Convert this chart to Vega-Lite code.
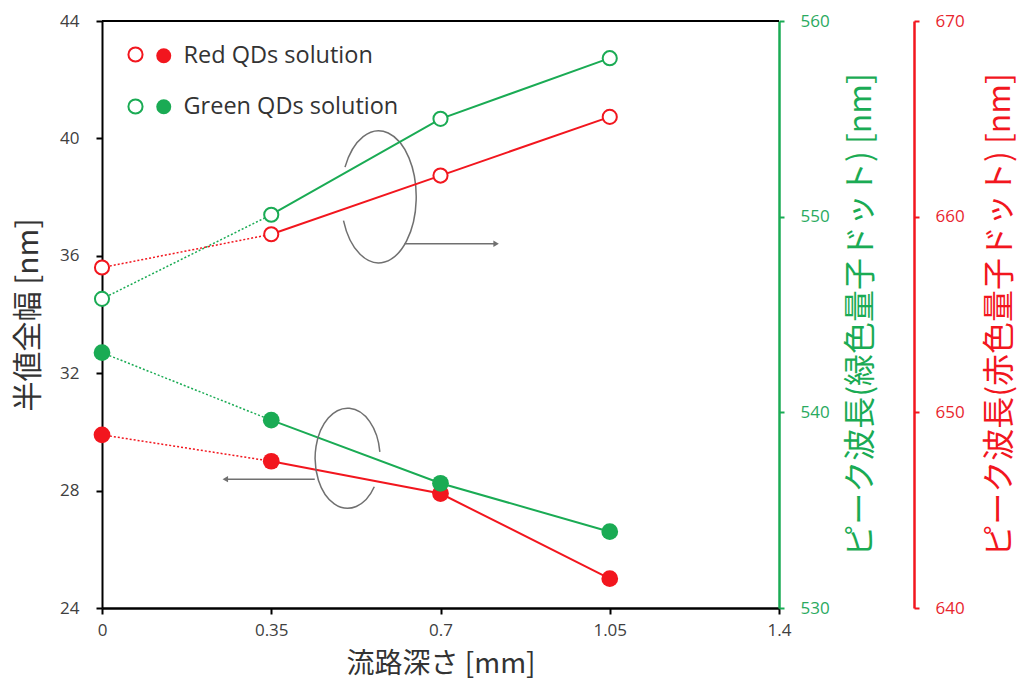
{
  "$schema": "https://vega.github.io/schema/vega-lite/v6.json",
  "width": 677,
  "height": 587,
  "autosize": "none",
  "padding": {"left": 102, "top": 21, "right": 240, "bottom": 78},
  "background": "white",
  "config": {
    "view": {"stroke": null},
    "font": "Open Sans",
    "axis": {
      "labelFont": "Open Sans",
      "labelFontSize": 17,
      "labelColor": "#404040",
      "labelFlush": false,
      "titleFont": "Noto Sans CJK JP",
      "titleFontWeight": "normal",
      "titleFontSize": 30,
      "titleColor": "#333333",
      "grid": false,
      "domainWidth": 2,
      "domainColor": "black",
      "tickWidth": 2,
      "tickColor": "black",
      "tickSize": 6
    }
  },
  "datasets": {
    "fwhm": [
      {"depth": 0, "fwhm": 29.9, "series": "Red QDs solution"},
      {"depth": 0.35, "fwhm": 29.0, "series": "Red QDs solution"},
      {"depth": 0.7, "fwhm": 27.9, "series": "Red QDs solution"},
      {"depth": 1.05, "fwhm": 25.0, "series": "Red QDs solution"},
      {"depth": 0, "fwhm": 32.7, "series": "Green QDs solution"},
      {"depth": 0.35, "fwhm": 30.4, "series": "Green QDs solution"},
      {"depth": 0.7, "fwhm": 28.25, "series": "Green QDs solution"},
      {"depth": 1.05, "fwhm": 26.6, "series": "Green QDs solution"}
    ],
    "peakGreen": [
      {"depth": 0, "peak": 545.8, "series": "Green QDs solution"},
      {"depth": 0.35, "peak": 550.1, "series": "Green QDs solution"},
      {"depth": 0.7, "peak": 555.0, "series": "Green QDs solution"},
      {"depth": 1.05, "peak": 558.1, "series": "Green QDs solution"}
    ],
    "peakRed": [
      {"depth": 0, "peak": 657.4, "series": "Red QDs solution"},
      {"depth": 0.35, "peak": 659.1, "series": "Red QDs solution"},
      {"depth": 0.7, "peak": 662.1, "series": "Red QDs solution"},
      {"depth": 1.05, "peak": 665.1, "series": "Red QDs solution"}
    ],
    "note": [{"note": "annotation"}]
  },
  "layer": [
    {
      "layer": [
        {
          "data": {"name": "fwhm"},
          "transform": [{"filter": "datum.depth <= 0.35"}],
          "mark": {"type": "line", "strokeWidth": 1.5, "strokeDash": [2, 2]},
          "encoding": {
            "x": {"field": "depth", "type": "quantitative", "scale": {"domain": [0, 1.4], "nice": false, "zero": false}, "axis": {"values": [0, 0.35, 0.7, 1.05, 1.4], "labelExpr": "datum.value + ''", "title": "流路深さ [mm]", "titleFontSize": 28, "labelPadding": 8, "titlePadding": 12, "domainWidth": 2.5}},
            "y": {"field": "fwhm", "type": "quantitative", "scale": {"domain": [24, 44], "nice": false, "zero": false}, "axis": {"values": [24, 28, 32, 36, 40, 44], "format": "d", "title": "半値全幅 [nm]", "labelPadding": 17, "titlePadding": 16}},
            "stroke": {"field": "series", "type": "nominal", "scale": {"domain": ["Red QDs solution", "Green QDs solution"], "range": ["#f2161e", "#1aab54"]}}
          }
        },
        {
          "data": {"name": "fwhm"},
          "transform": [{"filter": "datum.depth >= 0.35"}],
          "mark": {"type": "line", "strokeWidth": 2},
          "encoding": {
            "x": {"field": "depth", "type": "quantitative"},
            "y": {"field": "fwhm", "type": "quantitative"},
            "stroke": {"field": "series", "type": "nominal"}
          }
        },
        {
          "data": {"name": "note"},
          "mark": {"type": "rule", "color": "black", "strokeWidth": 2},
          "encoding": {"x": {"datum": 0}, "x2": {"datum": 1.4}, "y": {"datum": 44}}
        },
        {
          "data": {"name": "note"},
          "mark": {"type": "point", "shape": "M -0.509 -0.45 A 0.57 1 0 1 1 -0.532 0.36", "size": 17424, "filled": false, "stroke": "#707070", "strokeWidth": 1.5, "opacity": 1},
          "encoding": {"x": {"datum": 0.572}, "y": {"datum": 38.01}}
        },
        {
          "data": {"name": "note"},
          "mark": {"type": "point", "shape": "M 0.644 -0.13 A 0.65 1 0 1 0 0.533 0.57", "size": 10000, "filled": false, "stroke": "#707070", "strokeWidth": 1.5, "opacity": 1},
          "encoding": {"x": {"datum": 0.508}, "y": {"datum": 29.1}}
        },
        {
          "data": {"name": "note"},
          "mark": {"type": "rule", "color": "#707070", "strokeWidth": 1.5},
          "encoding": {"x": {"datum": 0.626}, "x2": {"datum": 0.815}, "y": {"datum": 36.41}}
        },
        {
          "data": {"name": "note"},
          "mark": {"type": "point", "shape": "triangle-right", "size": 40, "filled": true, "color": "#707070", "opacity": 1},
          "encoding": {"x": {"datum": 0.815}, "y": {"datum": 36.41}}
        },
        {
          "data": {"name": "note"},
          "mark": {"type": "rule", "color": "#707070", "strokeWidth": 1.5},
          "encoding": {"x": {"datum": 0.44}, "x2": {"datum": 0.255}, "y": {"datum": 28.39}}
        },
        {
          "data": {"name": "note"},
          "mark": {"type": "point", "shape": "triangle-left", "size": 40, "filled": true, "color": "#707070", "opacity": 1},
          "encoding": {"x": {"datum": 0.255}, "y": {"datum": 28.39}}
        },
        {
          "data": {"name": "fwhm"},
          "mark": {"type": "point", "shape": "circle", "filled": true, "size": 280, "opacity": 1, "strokeWidth": 0},
          "encoding": {
            "x": {"field": "depth", "type": "quantitative"},
            "y": {"field": "fwhm", "type": "quantitative"},
            "fill": {"field": "series", "type": "nominal", "scale": {"domain": ["Red QDs solution", "Green QDs solution"], "range": ["#f2161e", "#1aab54"]}, "legend": {"orient": "none", "legendX": 50, "legendY": 23, "title": null, "symbolType": "circle", "symbolSize": 225, "symbolStrokeWidth": 0, "symbolOpacity": 1, "labelFontSize": 23.5, "labelFont": "Open Sans", "labelColor": "#333333", "labelLimit": 0, "rowPadding": 26, "padding": 0, "labelOffset": 8}}
          }
        }
      ]
    },
    {
      "data": {"name": "peakGreen"},
      "encoding": {
        "x": {"field": "depth", "type": "quantitative"},
        "y": {"field": "peak", "type": "quantitative", "scale": {"domain": [530, 560], "nice": false, "zero": false}, "axis": {"orient": "right", "values": [530, 540, 550, 560], "format": "d", "title": "ピーク波長(緑色量子ドット) [nm]", "titleAngle": 270, "titleFontSize": 32, "domainColor": "#1aab54", "tickColor": "#1aab54", "labelColor": "#2aaa60", "titleColor": "#1aab54", "domainWidth": 2.5, "tickSize": 5, "labelPadding": 16, "titlePadding": 48}}
      },
      "layer": [
        {
          "transform": [{"filter": "datum.depth <= 0.35"}],
          "mark": {"type": "line", "strokeWidth": 1.5, "strokeDash": [2, 2]},
          "encoding": {"stroke": {"field": "series", "type": "nominal"}}
        },
        {
          "transform": [{"filter": "datum.depth >= 0.35"}],
          "mark": {"type": "line", "strokeWidth": 2},
          "encoding": {"stroke": {"field": "series", "type": "nominal"}}
        },
        {
          "mark": {"type": "point", "shape": "circle", "size": 200, "fill": "white", "strokeWidth": 2, "opacity": 1},
          "encoding": {"stroke": {"field": "series", "type": "nominal", "legend": {"orient": "top-left", "offset": 25, "title": null, "symbolType": "circle", "symbolSize": 200, "symbolStrokeWidth": 2, "symbolFillColor": "white", "symbolOpacity": 1, "labelExpr": "''", "labelFontSize": 1, "rowPadding": 29, "padding": 0, "labelOffset": 0}}}
        }
      ]
    },
    {
      "data": {"name": "peakRed"},
      "encoding": {
        "x": {"field": "depth", "type": "quantitative"},
        "y": {"field": "peak", "type": "quantitative", "scale": {"domain": [640, 670], "nice": false, "zero": false}, "axis": {"orient": "right", "offset": 135, "values": [640, 650, 660, 670], "format": "d", "title": "ピーク波長(赤色量子ドット) [nm]", "titleAngle": 270, "titleFontSize": 32, "domainColor": "#f2161e", "tickColor": "#f2161e", "labelColor": "#e8262e", "titleColor": "#f2161e", "domainWidth": 2.5, "tickSize": 5, "labelPadding": 16, "titlePadding": 52}}
      },
      "layer": [
        {
          "transform": [{"filter": "datum.depth <= 0.35"}],
          "mark": {"type": "line", "strokeWidth": 1.5, "strokeDash": [2, 2]},
          "encoding": {"stroke": {"field": "series", "type": "nominal"}}
        },
        {
          "transform": [{"filter": "datum.depth >= 0.35"}],
          "mark": {"type": "line", "strokeWidth": 2},
          "encoding": {"stroke": {"field": "series", "type": "nominal"}}
        },
        {
          "mark": {"type": "point", "shape": "circle", "size": 200, "fill": "white", "strokeWidth": 2, "opacity": 1},
          "encoding": {"stroke": {"field": "series", "type": "nominal"}}
        }
      ]
    }
  ],
  "resolve": {"scale": {"y": "independent"}}
}
